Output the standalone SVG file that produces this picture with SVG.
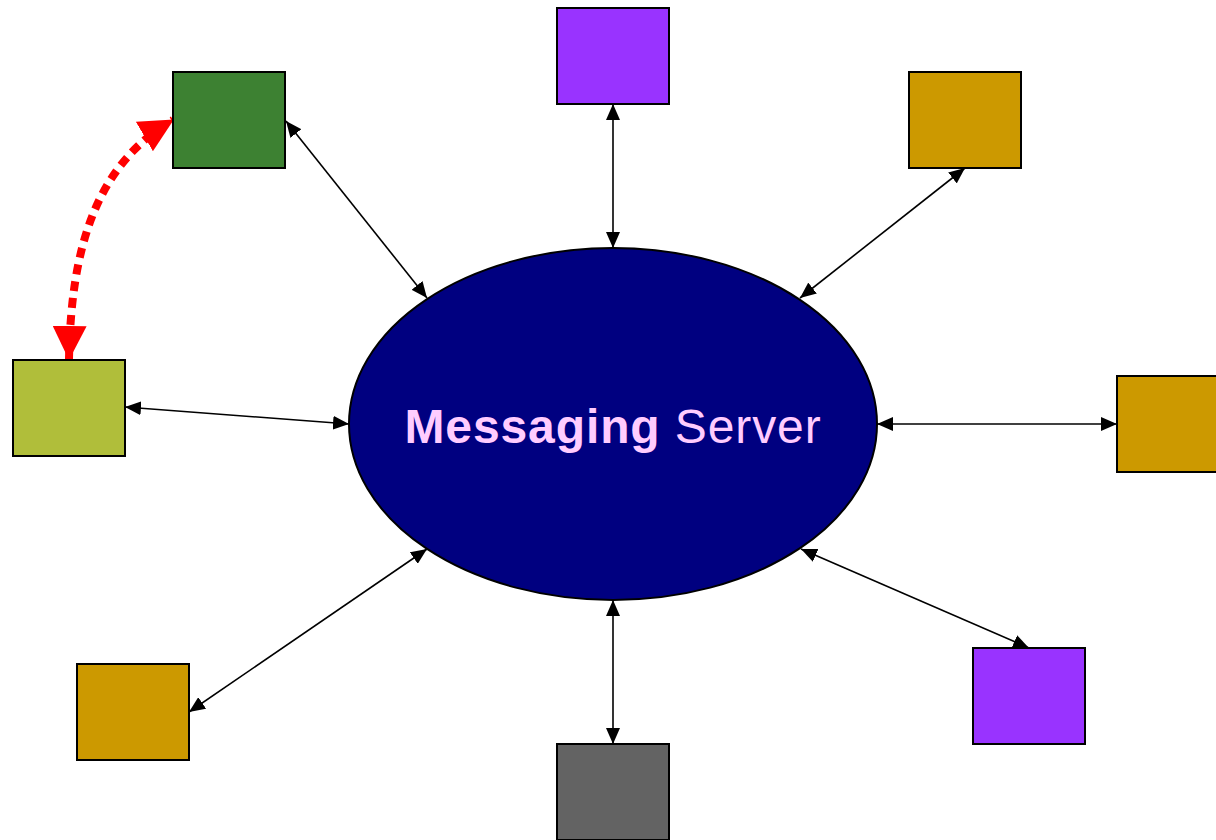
<svg xmlns="http://www.w3.org/2000/svg" width="1216" height="840" viewBox="0 0 1216 840">
<style>
.box{stroke:#000;stroke-width:2}
.conn{stroke:#000;stroke-width:1.6;fill:none;marker-start:url(#ah);marker-end:url(#ah)}
.red{stroke:#FF0000;stroke-width:8;fill:none;stroke-dasharray:10 7;marker-start:url(#rh);marker-end:url(#rh)}
.lbl{font-family:"Liberation Sans",Arial,sans-serif;font-size:48px;letter-spacing:0.9px;fill:#FFCCFF}
</style>
<defs>
<marker id="ah" markerUnits="userSpaceOnUse" markerWidth="16" markerHeight="14" viewBox="0 0 16 14" refX="16" refY="7" orient="auto-start-reverse">
<path d="M0,0 L16,7 L0,14 Z" fill="#000"/>
</marker>
<marker id="rh" markerUnits="userSpaceOnUse" markerWidth="34" markerHeight="34" viewBox="0 0 34 34" refX="33" refY="17" orient="auto-start-reverse">
<path d="M0,0 L34,17 L0,34 Z" fill="#FF0000"/>
</marker>
</defs>
<rect width="1216" height="840" fill="#fff"/>
<g id="connectors">
<line class="conn" x1="613" y1="104" x2="613" y2="248"/>
<line class="conn" x1="286" y1="121" x2="427" y2="298"/>
<line class="conn" x1="965" y1="168" x2="800" y2="298"/>
<line class="conn" x1="125" y1="407" x2="349" y2="424"/>
<line class="conn" x1="877" y1="424" x2="1117" y2="424"/>
<line class="conn" x1="189" y1="712" x2="427" y2="549"/>
<line class="conn" x1="613" y1="600" x2="613" y2="744"/>
<line class="conn" x1="801" y1="549" x2="1029" y2="648"/>
<path class="red" d="M69,359 C71,250 95,165 173,120"/>
</g>
<g id="server">
<ellipse cx="613" cy="424" rx="264" ry="176" fill="#000080" stroke="#000" stroke-width="2"/>
<text class="lbl" x="613" y="443" text-anchor="middle"><tspan font-weight="bold">Messaging</tspan> Server</text>
</g>
<g id="n-top"><rect class="box" x="557" y="8" width="112" height="96" fill="#9933FF"/></g>
<g id="n-topleft"><rect class="box" x="173" y="72" width="112" height="96" fill="#3D8132"/></g>
<g id="n-topright"><rect class="box" x="909" y="72" width="112" height="96" fill="#CC9900"/></g>
<g id="n-left"><rect class="box" x="13" y="360" width="112" height="96" fill="#B0BE3A"/></g>
<g id="n-right"><rect class="box" x="1117" y="376" width="112" height="96" fill="#CC9900"/></g>
<g id="n-bottomleft"><rect class="box" x="77" y="664" width="112" height="96" fill="#CC9900"/></g>
<g id="n-bottomright"><rect class="box" x="973" y="648" width="112" height="96" fill="#9933FF"/></g>
<g id="n-bottom"><rect class="box" x="557" y="744" width="112" height="96" fill="#636363"/></g>
</svg>
